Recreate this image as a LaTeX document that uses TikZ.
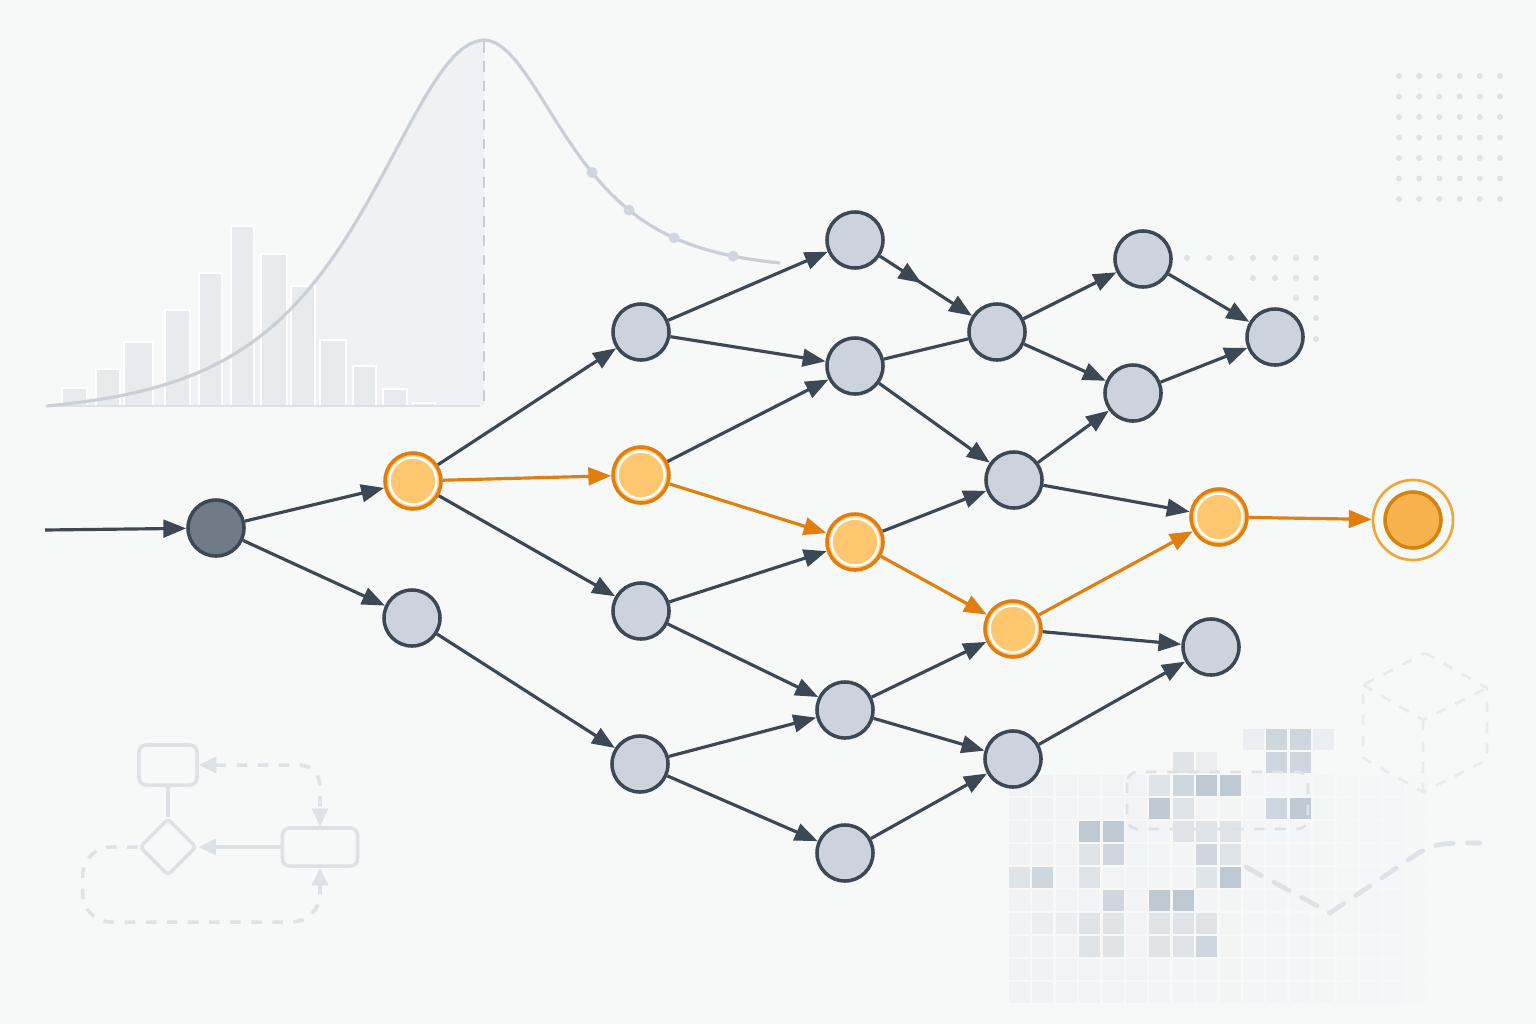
\documentclass[tikz,border=0pt]{standalone}
\usetikzlibrary{arrows.meta,shapes.geometric,decorations.markings}

\definecolor{paper}{HTML}{F7F8F8}
\definecolor{slate}{HTML}{3D4855}
\definecolor{stateface}{HTML}{CDD3DC}
\definecolor{startface}{HTML}{6F7B87}
\definecolor{hotline}{HTML}{E07E10}
\definecolor{hotface}{HTML}{FFC870}
\definecolor{goalring}{HTML}{F0A73A}
\definecolor{goalface}{HTML}{F7B24E}
\definecolor{goalline}{HTML}{D5830F}
\definecolor{ghost}{HTML}{C8CFD7}
\definecolor{ghostfill}{HTML}{EFF1F4}
\definecolor{barface}{HTML}{E8EBEE}
\definecolor{faint}{HTML}{DDE2E7}
\definecolor{cellfaint}{HTML}{EBEEF1}
\definecolor{celllight}{HTML}{DFE4E9}
\definecolor{cellmid}{HTML}{CFD7DE}
\definecolor{celldark}{HTML}{BFC9D2}

\begin{document}
\begin{tikzpicture}[x=0.01cm, y=-0.01cm]
  \tikzset{state/.style={circle, draw=slate, fill=stateface, line width=1pt, minimum size=0.56cm, inner sep=0pt},
    startstate/.style={state, fill=startface},
    hotstate/.style={state, draw=hotline, fill=hotface,
      path picture={\draw[white, line width=0.7pt] (path picture bounding box.center) circle (0.235cm);}},
    goalstate/.style={circle, draw=goalring, line width=0.75pt, minimum size=0.8cm, inner sep=0pt,
      path picture={\draw[goalline, fill=goalface, line width=1pt] (path picture bounding box.center) circle (0.28cm);}},
    transition/.style={draw=slate, line width=0.9pt, -{Triangle[length=6.5pt,width=5pt]}},
    link/.style={draw=slate, line width=0.9pt},
    hottransition/.style={transition, draw=hotline},
    chartbox/.style={draw=faint, line width=1pt, rounded corners=2pt, inner sep=0pt},
    chartline/.style={draw=faint, line width=1pt, -{Triangle[length=5pt,width=4.5pt]}},
  }

  \useasboundingbox (0,0) rectangle (1536,1024);
  \fill[paper] (0,0) rectangle (1536,1024);

  % distribution
  \fill[ghostfill] plot[domain=47:484, samples=60] (\x, {406-375.4*(1/cosh((484-\x)/100)-0.0253)}) -- (484,406) -- cycle;
  \foreach \l/\r/\t in {62/87/388, 96/120/369, 124/153/342, 165/190/310, 199/222/273, 231/254/226, 261/287/254, 291/315/286, 320/346/340, 353/376/366, 383/407/389, 413/435/403}
    \filldraw[barface, draw=white, line width=0.6pt] (\l,\t) rectangle (\r,406);
  \draw[faint, line width=0.6pt] (45,406) -- (480,406);
  \draw[ghost, line width=0.9pt] plot[domain=47:484, samples=60] (\x, {406-375.4*(1/cosh((484-\x)/100)-0.0253)})
    -- plot[domain=484:780, samples=50] (\x, {406-366*(0.37+0.63/cosh((\x-484)/72))});
  \draw[ghost, line width=0.7pt, dash pattern=on 3pt off 2.5pt] (484,42) -- (484,405);
  \foreach \x in {592, 629, 674, 733}
    \fill[ghost!85] (\x, {406-366*(0.37+0.63/cosh((\x-484)/72))}) circle (0.055cm);

  % dot grids
  \foreach \i in {0,...,5} \foreach \j in {0,...,6}
    \fill[faint] (1399+20.2*\i, 76+20.5*\j) circle (0.03cm);
  \foreach \x/\y in {1187/258, 1209/258, 1231/258, 1253/258, 1275/258, 1296/258, 1316/258, 1253/278, 1275/278, 1296/278, 1316/278, 1296/298, 1316/298, 1316/318, 1316/339}
    \fill[faint] (\x,\y) circle (0.03cm);

  % flow chart
  \node[chartbox, minimum width=0.58cm, minimum height=0.4cm] (Q1) at (168,765) {};
  \node[chartbox, diamond, rounded corners=1pt, minimum size=0.57cm] (Q2) at (168,847) {};
  \node[chartbox, minimum width=0.75cm, minimum height=0.38cm] (Q3) at (320,847) {};
  \draw[chartline, -] (Q1) -- (Q2);
  \draw[chartline] (Q3) -- (Q2);
  \draw[chartline, dashed, rounded corners=6pt, {Triangle[length=5pt,width=4.5pt]}-{Triangle[length=5pt,width=4.5pt]}] (Q1.east) -| (Q3.north);
  \draw[chartline, dashed, rounded corners=8pt] (Q2.west) -- ++(-55,0) -- ++(0,75) -| (Q3.south);

  % cube and tick
  \draw[faint!70, dashed, line width=0.8pt] (1425,653) -- (1487,688) -- (1487,760) -- (1423,792) -- (1363,758) -- (1363,685) -- cycle;
  \draw[faint!70, dashed, line width=0.8pt] (1363,685) -- (1423,720) -- (1487,688) (1423,720) -- (1423,792);

  % pixel grid
  \foreach \k in {0,...,17} {
    \pgfmathsetmacro\fade{0.55-0.028*\k}
    \foreach \j in {2,...,11}
      \fill[cellfaint, fill opacity=\fade] (1009+23.4*\k, 729+23*\j) rectangle ++(21,21);
  }
  \foreach \k/\j/\tone in {10/0/cellfaint, 11/0/cellmid, 12/0/cellmid, 13/0/cellfaint,
      7/1/celllight, 8/1/cellfaint, 11/1/cellmid, 12/1/cellmid,
      6/2/celllight, 7/2/cellmid, 8/2/celldark, 9/2/celldark,
      6/3/celldark, 7/3/celllight, 11/3/cellmid, 12/3/celldark,
      3/4/celldark, 4/4/celldark, 7/4/celllight, 8/4/celllight, 9/4/celllight,
      3/5/celllight, 4/5/cellmid, 8/5/cellmid, 9/5/celllight,
      0/6/celllight, 1/6/cellmid, 3/6/celllight, 8/6/celllight, 9/6/celldark,
      4/7/cellmid, 6/7/celldark, 7/7/celldark,
      1/8/cellfaint, 2/8/cellfaint, 3/8/celllight, 4/8/celllight, 6/8/celllight, 7/8/celllight, 8/8/celllight,
      3/9/celllight, 4/9/celllight, 6/9/celllight, 7/9/celllight, 8/9/cellmid}
    \fill[\tone] (1009+23.4*\k, 729+23*\j) rectangle ++(21,21);
  \draw[faint, dashed, line width=0.8pt, rounded corners=3pt] (1127,772) rectangle (1308,829);
  \draw[faint, line width=1.3pt, dash pattern=on 5pt off 4pt, line cap=round] (1246,867) -- (1330,913) -- (1420,852) .. controls (1440,843) .. (1480,843);

  % graph
  \node[startstate] (S) at (216,528) {};
  \node[hotstate] (A) at (413,481) {};
  \node[state] (B) at (412,618) {};
  \node[state] (C1) at (641,332) {};
  \node[hotstate] (C2) at (641,475) {};
  \node[state] (C3) at (641,611) {};
  \node[state] (C4) at (640,764) {};
  \node[state] (D1) at (855,240) {};
  \node[state] (D2) at (855,366) {};
  \node[hotstate] (D3) at (855,542) {};
  \node[state] (D4) at (845,710) {};
  \node[state] (D5) at (845,853) {};
  \node[state] (E1) at (997,332) {};
  \node[state] (E2) at (1014,480) {};
  \node[hotstate] (E3) at (1013,629) {};
  \node[state] (E4) at (1013,759) {};
  \node[state] (F1) at (1143,259) {};
  \node[state] (F2) at (1133,393) {};
  \node[hotstate] (F3) at (1219,517) {};
  \node[state] (F4) at (1211,647) {};
  \node[state] (G) at (1275,337) {};
  \node[goalstate] (T) at (1413,520) {};
  \coordinate (I) at (45,530);

  \foreach \u/\v in {I/S, S/A, S/B, A/C1, A/C3, B/C4, C1/D1, C1/D2, C2/D2, C3/D3, C3/D4, C4/D4, C4/D5,
      D2/E2, D3/E2, D4/E3, D4/E4, D5/E4, E1/F1, E1/F2, E2/F2, E2/F3, E3/F4, E4/F4, F1/G, F2/G}
    \draw[transition] (\u) -- (\v);
  \foreach \u/\v in {A/C2, C2/D3, D3/E3, E3/F3, F3/T}
    \draw[hottransition] (\u) -- (\v);
  \draw[link] (D2) -- (E1);
  \draw[transition, decoration={markings, mark=at position 0.45 with {\arrow{Triangle[length=6.5pt,width=5pt]}}}, postaction={decorate}] (D1) -- (E1);
\end{tikzpicture}
\end{document}
